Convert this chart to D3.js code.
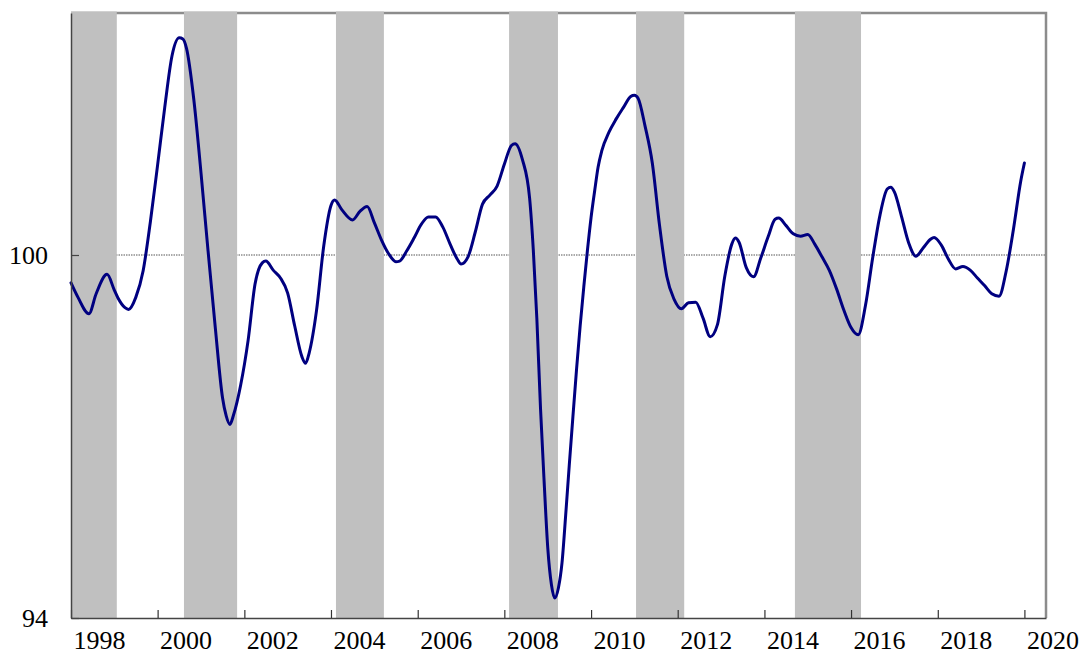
<!DOCTYPE html>
<html><head><meta charset="utf-8">
<script src="https://cdn.jsdelivr.net/npm/d3@7"></script>
<style>body{margin:0;background:#fff} svg{display:block}</style>
</head><body><svg id="c" width="1084" height="655"></svg>
<script>
const dates = ["1998-01","1998-03","1998-06","1998-08","1998-11","1999-01","1999-02","1999-04","1999-05","1999-07","1999-09","1999-11",
"2000-01","2000-03","2000-05","2000-07","2000-08","2000-09","2000-11","2001-01","2001-03","2001-05","2001-07","2001-08","2001-09","2001-10","2001-12",
"2002-02","2002-04","2002-06","2002-07","2002-09","2002-11","2003-01","2003-03","2003-05","2003-06","2003-07","2003-09","2003-11",
"2004-01","2004-02","2004-04","2004-07","2004-09","2004-11","2005-01","2005-03","2005-05","2005-07","2005-08","2005-10","2005-12",
"2006-02","2006-04","2006-06","2006-08","2006-10","2006-12","2007-01","2007-03","2007-05","2007-07","2007-09","2007-11",
"2008-01","2008-03","2008-04","2008-06","2008-08","2008-09","2008-10","2008-11","2008-12","2009-01","2009-02","2009-03","2009-04","2009-05","2009-06","2009-07","2009-08","2009-09","2009-10","2009-11","2009-12",
"2010-01","2010-02","2010-03","2010-04","2010-06","2010-08","2010-10","2010-12","2011-01","2011-02","2011-04","2011-06","2011-08","2011-10","2011-12",
"2012-02","2012-04","2012-06","2012-08","2012-10","2012-12","2013-02","2013-04","2013-05","2013-06","2013-08","2013-10","2013-12",
"2014-02","2014-04","2014-05","2014-07","2014-09","2014-11","2015-01","2015-03","2015-05","2015-07","2015-09","2015-11",
"2016-01","2016-03","2016-05","2016-07","2016-09","2016-11","2016-12","2017-01","2017-03","2017-05","2017-07","2017-09","2017-11","2017-12",
"2018-02","2018-04","2018-06","2018-08","2018-10","2018-12","2019-02","2019-04","2019-06","2019-08","2019-10","2019-12","2020-01"];
const values = [99.54,99.30,99.03,99.36,99.68,99.42,99.29,99.13,99.10,99.30,99.74,100.55,
101.49,102.44,103.29,103.59,103.57,103.41,102.57,101.35,100.07,98.80,97.64,97.34,97.20,97.35,97.85,
98.58,99.52,99.87,99.90,99.75,99.62,99.37,98.83,98.32,98.21,98.38,99.08,100.15,
100.82,100.91,100.75,100.58,100.72,100.80,100.53,100.25,100.02,99.89,99.90,100.07,100.28,
100.51,100.63,100.63,100.46,100.18,99.93,99.85,99.97,100.38,100.84,100.99,101.14,
101.50,101.81,101.84,101.58,100.94,100.09,98.95,97.46,96.27,95.16,94.55,94.33,94.50,94.91,95.70,96.52,97.33,98.12,98.83,99.48,100.07,
100.62,101.07,101.45,101.72,102.03,102.25,102.44,102.62,102.64,102.59,102.13,101.52,100.49,99.65,99.27,
99.11,99.21,99.22,98.96,98.65,98.85,99.65,100.18,100.28,100.21,99.79,99.64,99.95,
100.30,100.59,100.61,100.49,100.35,100.31,100.34,100.18,99.97,99.75,99.44,99.09,
98.80,98.68,99.16,99.95,100.66,101.09,101.12,101.04,100.64,100.20,99.98,100.12,100.26,100.29,
100.16,99.93,99.77,99.81,99.75,99.62,99.49,99.36,99.32,99.74,100.43,101.22,101.52];
const bandStarts = ["1998-01-01","2000-08-10","2004-02-12","2008-02-10","2011-01-15","2014-09-15"];
const bandEnds   = ["1999-01-22","2001-11-01","2005-03-22","2009-03-28","2012-02-25","2016-03-25"];
const xTickYears = [1998,2000,2002,2004,2006,2008,2010,2012,2014,2016,2018,2020];
const yTickValues = [94,100];
const yDomain = [94,104];
const xDomain = ["1998-01-01","2020-07-01"];
const refValue = 100;

const FONT = "'Liberation Serif','Times New Roman',serif";
const L=71, R=1046, T=13, B=618;
const pm = d3.timeParse("%Y-%m"), pd = d3.timeParse("%Y-%m-%d");
const x = d3.scaleTime().domain(xDomain.map(pd)).range([L,R]);
const y = d3.scaleLinear().domain(yDomain).range([B,T]);
const svg = d3.select("#c");
svg.append("rect").attr("width",1084).attr("height",655).attr("fill","#fff");

// frame top/right
svg.append("path").attr("d",`M${L},${T}H${R}V${B}`).attr("fill","none").attr("stroke","#8c8c8c").attr("stroke-width",2.5);

// reference line
svg.append("line").attr("x1",L).attr("x2",R).attr("y1",y(refValue)).attr("y2",y(refValue))
  .attr("stroke","#555").attr("stroke-width",1).attr("stroke-dasharray","1.5,1");

// bands
svg.append("g").selectAll("rect").data(bandStarts.map((s,i)=>[pd(s),pd(bandEnds[i])])).join("rect")
  .attr("x",d=>x(d[0])).attr("width",d=>x(d[1])-x(d[0])).attr("y",T-1.5).attr("height",B-T+1.5).attr("fill","#c0c0c0");

// line
const data = dates.map((d,i)=>({t:pm(d),v:values[i]}));
svg.append("path").datum(data).attr("fill","none").attr("stroke","#000080").attr("stroke-width",3)
  .attr("stroke-linejoin","round").attr("stroke-linecap","round")
  .attr("d",d3.line().x(d=>x(d.t)).y(d=>y(d.v)).curve(d3.curveMonotoneX));

// axes
const xAxis = d3.axisBottom(x).tickValues(xTickYears.map(yr=>new Date(yr,0,1))).tickSizeInner(-8).tickSizeOuter(0).tickFormat(d3.timeFormat("%Y"));
const gx = svg.append("g").attr("transform",`translate(0,${B})`).call(xAxis).attr("font-family",null).attr("font-size",null);
gx.select(".domain").attr("stroke","#444").attr("stroke-width",1.5);
gx.selectAll(".tick line").attr("stroke","#333").attr("stroke-width",1.2);
gx.selectAll(".tick text").attr("fill","#000").style("font-size","26px").style("font-family",FONT)
  .attr("text-anchor","start").attr("x",2).attr("y",31).attr("dy",0);

const yAxis = d3.axisLeft(y).tickValues(yTickValues).tickSizeInner(-8).tickSizeOuter(0).tickFormat(d3.format("d"));
const gy = svg.append("g").attr("transform",`translate(${L},0)`).call(yAxis).attr("font-family",null).attr("font-size",null);
gy.select(".domain").attr("stroke","#444").attr("stroke-width",1.5);
gy.selectAll(".tick line").attr("stroke","#444").attr("stroke-width",1.2);
gy.selectAll(".tick text").attr("fill","#000").style("font-size","26px").style("font-family",FONT)
  .attr("text-anchor","end").attr("x",-23).attr("dy","0.33em");
</script></body></html>
